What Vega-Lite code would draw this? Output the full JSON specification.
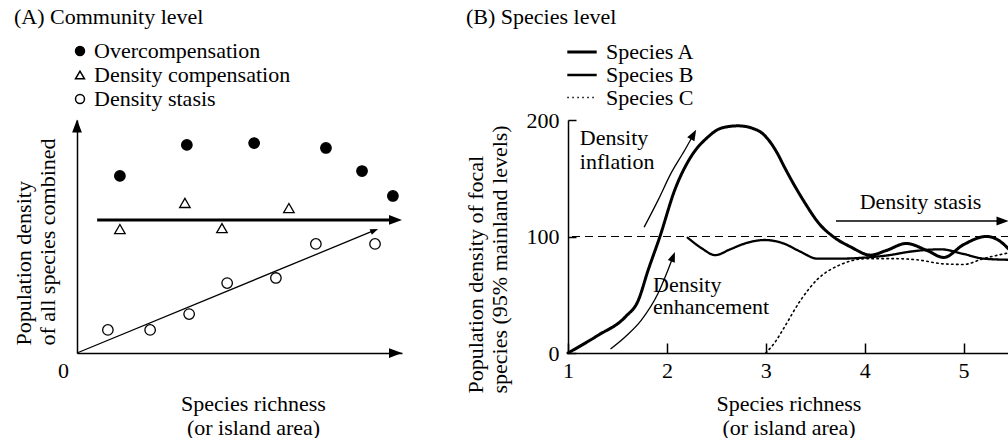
{
  "$schema": "https://vega.github.io/schema/vega-lite/v6.json",
  "background": "white",
  "padding": {"left": 11, "top": 6, "right": 0, "bottom": 0},
  "spacing": 60,
  "resolve": {"legend": {"shape": "independent", "fill": "independent", "strokeWidth": "independent", "strokeDash": "independent"}},
  "config": {
    "view": {"stroke": null},
    "font": "Liberation Serif",
    "axis": {
      "labelFont": "Liberation Serif", "titleFont": "Liberation Serif",
      "labelFontSize": 22, "titleFontSize": 22, "titleFontWeight": "normal",
      "labelColor": "black", "titleColor": "black", "domainColor": "black", "tickColor": "black",
      "grid": false, "titleLineHeight": 24, "domainWidth": 1.5, "tickWidth": 1.5
    },
    "legend": {
      "labelFont": "Liberation Serif", "labelFontSize": 22, "labelColor": "black", "labelLimit": 400,
      "rowPadding": 2, "padding": 0, "labelOffset": 9
    },
    "title": {"font": "Liberation Serif", "fontSize": 22, "fontWeight": "normal", "color": "black", "anchor": "start", "frame": "group"},
    "text": {"font": "Liberation Serif", "fontSize": 22, "color": "black"}
  },
  "datasets": {
    "pointsA": [
      {"pattern": "Overcompensation", "richness": 1.32, "density": 7.60},
      {"pattern": "Overcompensation", "richness": 3.38, "density": 8.93},
      {"pattern": "Overcompensation", "richness": 5.45, "density": 9.01},
      {"pattern": "Overcompensation", "richness": 7.66, "density": 8.80},
      {"pattern": "Overcompensation", "richness": 8.77, "density": 7.81},
      {"pattern": "Overcompensation", "richness": 9.72, "density": 6.74},
      {"pattern": "Density compensation", "richness": 1.32, "density": 5.32},
      {"pattern": "Density compensation", "richness": 3.32, "density": 6.44},
      {"pattern": "Density compensation", "richness": 4.46, "density": 5.36},
      {"pattern": "Density compensation", "richness": 6.52, "density": 6.22},
      {"pattern": "Density stasis", "richness": 0.95, "density": 0.99},
      {"pattern": "Density stasis", "richness": 2.25, "density": 0.99},
      {"pattern": "Density stasis", "richness": 3.45, "density": 1.67},
      {"pattern": "Density stasis", "richness": 4.62, "density": 3.00},
      {"pattern": "Density stasis", "richness": 6.12, "density": 3.22},
      {"pattern": "Density stasis", "richness": 7.35, "density": 4.68},
      {"pattern": "Density stasis", "richness": 9.17, "density": 4.68}
    ],
    "trendsA": [
      {"pattern": "Density compensation", "richness": 0.62, "density": 5.71},
      {"pattern": "Density compensation", "richness": 9.8, "density": 5.71},
      {"pattern": "Density stasis", "richness": 0, "density": 0},
      {"pattern": "Density stasis", "richness": 9.15, "density": 5.26}
    ],
    "headsA": [
      {"arrow": "x axis", "richness": 9.8, "density": 0},
      {"arrow": "y axis", "richness": 0, "density": 9.74},
      {"arrow": "Density compensation", "richness": 9.8, "density": 5.71},
      {"arrow": "Density stasis", "richness": 9.15, "density": 5.26}
    ],
    "densityB": [
      {"species": "Species A", "richness": 1.0, "density": 0},
      {"species": "Species A", "richness": 1.3, "density": 15},
      {"species": "Species A", "richness": 1.58, "density": 31},
      {"species": "Species A", "richness": 1.71, "density": 45},
      {"species": "Species A", "richness": 1.81, "density": 71},
      {"species": "Species A", "richness": 1.93, "density": 100},
      {"species": "Species A", "richness": 2.08, "density": 140},
      {"species": "Species A", "richness": 2.24, "density": 168},
      {"species": "Species A", "richness": 2.41, "density": 185},
      {"species": "Species A", "richness": 2.55, "density": 193},
      {"species": "Species A", "richness": 2.72, "density": 195},
      {"species": "Species A", "richness": 2.92, "density": 191},
      {"species": "Species A", "richness": 3.12, "density": 171},
      {"species": "Species A", "richness": 3.18, "density": 161},
      {"species": "Species A", "richness": 3.38, "density": 131},
      {"species": "Species A", "richness": 3.55, "density": 110},
      {"species": "Species A", "richness": 3.68, "density": 100},
      {"species": "Species A", "richness": 3.86, "density": 91},
      {"species": "Species A", "richness": 4.06, "density": 84},
      {"species": "Species A", "richness": 4.22, "density": 88},
      {"species": "Species A", "richness": 4.42, "density": 94},
      {"species": "Species A", "richness": 4.63, "density": 88},
      {"species": "Species A", "richness": 4.80, "density": 82},
      {"species": "Species A", "richness": 5.0, "density": 93},
      {"species": "Species A", "richness": 5.23, "density": 100},
      {"species": "Species A", "richness": 5.35, "density": 97},
      {"species": "Species A", "richness": 5.46, "density": 89},
      {"species": "Species B", "richness": 2.21, "density": 99},
      {"species": "Species B", "richness": 2.35, "density": 90},
      {"species": "Species B", "richness": 2.49, "density": 84},
      {"species": "Species B", "richness": 2.64, "density": 89},
      {"species": "Species B", "richness": 2.79, "density": 94},
      {"species": "Species B", "richness": 2.99, "density": 97},
      {"species": "Species B", "richness": 3.18, "density": 94},
      {"species": "Species B", "richness": 3.35, "density": 87},
      {"species": "Species B", "richness": 3.52, "density": 81},
      {"species": "Species B", "richness": 3.75, "density": 81},
      {"species": "Species B", "richness": 4.02, "density": 82},
      {"species": "Species B", "richness": 4.25, "density": 84},
      {"species": "Species B", "richness": 4.46, "density": 87},
      {"species": "Species B", "richness": 4.77, "density": 89},
      {"species": "Species B", "richness": 5.0, "density": 85},
      {"species": "Species B", "richness": 5.2, "density": 81},
      {"species": "Species B", "richness": 5.46, "density": 80},
      {"species": "Species C", "richness": 3.0, "density": 0},
      {"species": "Species C", "richness": 3.1, "density": 10},
      {"species": "Species C", "richness": 3.18, "density": 21},
      {"species": "Species C", "richness": 3.35, "density": 45},
      {"species": "Species C", "richness": 3.52, "density": 63},
      {"species": "Species C", "richness": 3.76, "density": 76},
      {"species": "Species C", "richness": 4.02, "density": 81},
      {"species": "Species C", "richness": 4.3, "density": 81},
      {"species": "Species C", "richness": 4.53, "density": 80},
      {"species": "Species C", "richness": 4.8, "density": 76.5},
      {"species": "Species C", "richness": 5.0, "density": 76},
      {"species": "Species C", "richness": 5.2, "density": 81},
      {"species": "Species C", "richness": 5.46, "density": 86}
    ],
    "mainland": [{"level": "mainland", "density": 100}],
    "arrowsB": [
      {"arrow": "Density inflation", "richness": 1.77, "density": 108},
      {"arrow": "Density inflation", "richness": 1.91, "density": 131},
      {"arrow": "Density inflation", "richness": 2.04, "density": 154},
      {"arrow": "Density inflation", "richness": 2.18, "density": 174},
      {"arrow": "Density inflation", "richness": 2.269, "density": 187.6},
      {"arrow": "Density enhancement", "richness": 1.43, "density": 3.5},
      {"arrow": "Density enhancement", "richness": 1.58, "density": 14},
      {"arrow": "Density enhancement", "richness": 1.74, "density": 28},
      {"arrow": "Density enhancement", "richness": 1.91, "density": 51},
      {"arrow": "Density enhancement", "richness": 2.01, "density": 71},
      {"arrow": "Density enhancement", "richness": 2.063, "density": 82.7},
      {"arrow": "Density stasis", "richness": 3.71, "density": 113.3},
      {"arrow": "Density stasis", "richness": 5.394, "density": 113.3}
    ],
    "headsB": [
      {"arrow": "Density inflation", "richness": 2.269, "density": 187.6},
      {"arrow": "Density enhancement", "richness": 2.063, "density": 82.7},
      {"arrow": "Density stasis", "richness": 5.394, "density": 113.3}
    ],
    "notesB": [
      {"note": "Density", "richness": 1.12, "density": 178.5},
      {"note": "inflation", "richness": 1.12, "density": 158},
      {"note": "Density", "richness": 1.86, "density": 52},
      {"note": "enhancement", "richness": 1.86, "density": 33.5},
      {"note": "Density stasis", "richness": 3.95, "density": 123.6}
    ]
  },
  "hconcat": [
    {
      "width": 325,
      "height": 233,
      "title": {"text": "(A) Community level", "dx": -63, "baseline": "alphabetic", "offset": -6},
      "layer": [
        {
          "data": {"name": "trendsA"},
          "transform": [{"filter": "datum.pattern == 'Density compensation'"}],
          "mark": {"type": "line", "color": "black", "strokeWidth": 3},
          "encoding": {
            "x": {"field": "richness", "type": "quantitative", "scale": {"domain": [0, 10], "nice": false, "zero": false},
              "axis": {"values": [0], "ticks": false, "labelFlush": false, "labelOffset": -14, "labelPadding": 7,
                "title": ["Species richness", "(or island area)"], "titleX": 176, "titleY": 57, "titleAlign": "center", "titleBaseline": "alphabetic"}},
            "y": {"field": "density", "type": "quantitative", "scale": {"domain": [0, 10], "nice": false, "zero": false},
              "axis": {"labels": false, "ticks": false,
                "title": ["Population density", "of all species combined"], "titleX": -47, "titleY": 225, "titleAngle": 270, "titleAlign": "left", "titleBaseline": "alphabetic"}}
          }
        },
        {
          "data": {"name": "trendsA"},
          "transform": [{"filter": "datum.pattern == 'Density stasis'"}],
          "mark": {"type": "line", "color": "black", "strokeWidth": 1.3},
          "encoding": {
            "x": {"field": "richness", "type": "quantitative"},
            "y": {"field": "density", "type": "quantitative"}
          }
        },
        {
          "data": {"name": "headsA"},
          "transform": [{"filter": "datum.arrow == 'x axis' || datum.arrow == 'Density compensation'"}],
          "mark": {"type": "point", "shape": "M-1,-0.75L1,0L-1,0.75Z", "filled": true, "color": "black", "size": 169, "opacity": 1},
          "encoding": {
            "x": {"field": "richness", "type": "quantitative"},
            "y": {"field": "density", "type": "quantitative"}
          }
        },
        {
          "data": {"name": "headsA"},
          "transform": [{"filter": "datum.arrow == 'y axis'"}],
          "mark": {"type": "point", "shape": "M-0.75,1L0,-1L0.75,1Z", "filled": true, "color": "black", "size": 169, "opacity": 1},
          "encoding": {
            "x": {"field": "richness", "type": "quantitative"},
            "y": {"field": "density", "type": "quantitative"}
          }
        },
        {
          "data": {"name": "headsA"},
          "transform": [{"filter": "datum.arrow == 'Density stasis'"}],
          "mark": {"type": "point", "shape": "M-1,-0.75L1,0L-1,0.75Z", "filled": true, "color": "black", "size": 64, "angle": -22, "opacity": 1},
          "encoding": {
            "x": {"field": "richness", "type": "quantitative"},
            "y": {"field": "density", "type": "quantitative"}
          }
        },
        {
          "data": {"name": "pointsA"},
          "mark": {"type": "point", "filled": true, "stroke": "black", "strokeWidth": 1.3, "size": 110, "opacity": 1},
          "encoding": {
            "x": {"field": "richness", "type": "quantitative"},
            "y": {"field": "density", "type": "quantitative"},
            "shape": {"field": "pattern", "type": "nominal",
              "scale": {"domain": ["Overcompensation", "Density compensation", "Density stasis"], "range": ["circle", "triangle-up", "circle"]},
              "legend": {"orient": "none", "legendX": -8, "legendY": -80, "title": null, "symbolSize": 80, "labelOffset": 3,
                "encode": {"symbols": {"update": {"stroke": {"value": "black"}, "strokeWidth": {"value": 1.2}}}}}},
            "fill": {"field": "pattern", "type": "nominal",
              "scale": {"domain": ["Overcompensation", "Density compensation", "Density stasis"], "range": ["black", "white", "white"]},
              "legend": {"orient": "none", "legendX": -8, "legendY": -80, "title": null, "symbolSize": 80, "labelOffset": 3,
                "encode": {"symbols": {"update": {"stroke": {"value": "black"}, "strokeWidth": {"value": 1.2}}}}}}
          }
        }
      ]
    },
    {
      "width": 441,
      "height": 233,
      "title": {"text": "(B) Species level", "dx": -102, "baseline": "alphabetic", "offset": -6},
      "layer": [
        {
          "data": {"name": "densityB"},
          "mark": {"type": "line", "color": "black", "interpolate": "monotone", "strokeCap": "round"},
          "encoding": {
            "x": {"field": "richness", "type": "quantitative", "scale": {"domain": [1, 5.46], "nice": false, "zero": false},
              "axis": {"values": [1, 2, 3, 4, 5], "format": "d", "tickSize": -10, "labelFlush": false, "labelPadding": 17,
                "title": ["Species richness", "(or island area)"], "titleX": 220.5, "titleY": 57, "titleAlign": "center", "titleBaseline": "alphabetic"}},
            "y": {"field": "density", "type": "quantitative", "scale": {"domain": [0, 200], "nice": false, "zero": false},
              "axis": {"values": [0, 100, 200], "tickSize": -8, "labelPadding": 17,
                "title": ["Population density of focal", "species (95% mainland levels)"], "titleX": -86, "titleY": 273, "titleAngle": 270, "titleAlign": "left", "titleBaseline": "alphabetic"}},
            "detail": {"field": "species"},
            "strokeWidth": {"field": "species", "type": "nominal",
              "scale": {"domain": ["Species A", "Species B", "Species C"], "range": [3, 1.6, 2.2]},
              "legend": {"orient": "none", "legendX": 2, "legendY": -80, "title": null, "symbolType": "M-1.4,0L1.4,0", "symbolSize": 441, "symbolStrokeColor": "black", "rowPadding": 0, "labelOffset": 12}},
            "strokeDash": {"field": "species", "type": "nominal",
              "scale": {"domain": ["Species A", "Species B", "Species C"], "range": [[1, 0], [1, 0], [1.5, 3.5]]},
              "legend": {"orient": "none", "legendX": 2, "legendY": -80, "title": null, "symbolType": "M-1.4,0L1.4,0", "symbolSize": 441, "symbolStrokeColor": "black", "rowPadding": 0, "labelOffset": 12}}
          }
        },
        {
          "data": {"name": "mainland"},
          "mark": {"type": "rule", "color": "black", "strokeWidth": 1.2, "strokeDash": [8, 5]},
          "encoding": {
            "y": {"field": "density", "type": "quantitative"}
          }
        },
        {
          "data": {"name": "arrowsB"},
          "mark": {"type": "line", "color": "black", "strokeWidth": 1.3, "interpolate": "monotone"},
          "encoding": {
            "x": {"field": "richness", "type": "quantitative"},
            "y": {"field": "density", "type": "quantitative"},
            "detail": {"field": "arrow"}
          }
        },
        {
          "data": {"name": "headsB"},
          "transform": [{"filter": "datum.arrow == 'Density inflation'"}],
          "mark": {"type": "point", "shape": "M-1,-0.75L1,0L-1,0.75Z", "filled": true, "color": "black", "size": 121, "angle": -61, "opacity": 1},
          "encoding": {
            "x": {"field": "richness", "type": "quantitative"},
            "y": {"field": "density", "type": "quantitative"}
          }
        },
        {
          "data": {"name": "headsB"},
          "transform": [{"filter": "datum.arrow == 'Density enhancement'"}],
          "mark": {"type": "point", "shape": "M-1,-0.75L1,0L-1,0.75Z", "filled": true, "color": "black", "size": 100, "angle": -69, "opacity": 1},
          "encoding": {
            "x": {"field": "richness", "type": "quantitative"},
            "y": {"field": "density", "type": "quantitative"}
          }
        },
        {
          "data": {"name": "headsB"},
          "transform": [{"filter": "datum.arrow == 'Density stasis'"}],
          "mark": {"type": "point", "shape": "M-1,-0.75L1,0L-1,0.75Z", "filled": true, "color": "black", "size": 144, "opacity": 1},
          "encoding": {
            "x": {"field": "richness", "type": "quantitative"},
            "y": {"field": "density", "type": "quantitative"}
          }
        },
        {
          "data": {"name": "notesB"},
          "mark": {"type": "text", "align": "left", "baseline": "alphabetic"},
          "encoding": {
            "x": {"field": "richness", "type": "quantitative"},
            "y": {"field": "density", "type": "quantitative"},
            "text": {"field": "note"}
          }
        }
      ]
    }
  ]
}
